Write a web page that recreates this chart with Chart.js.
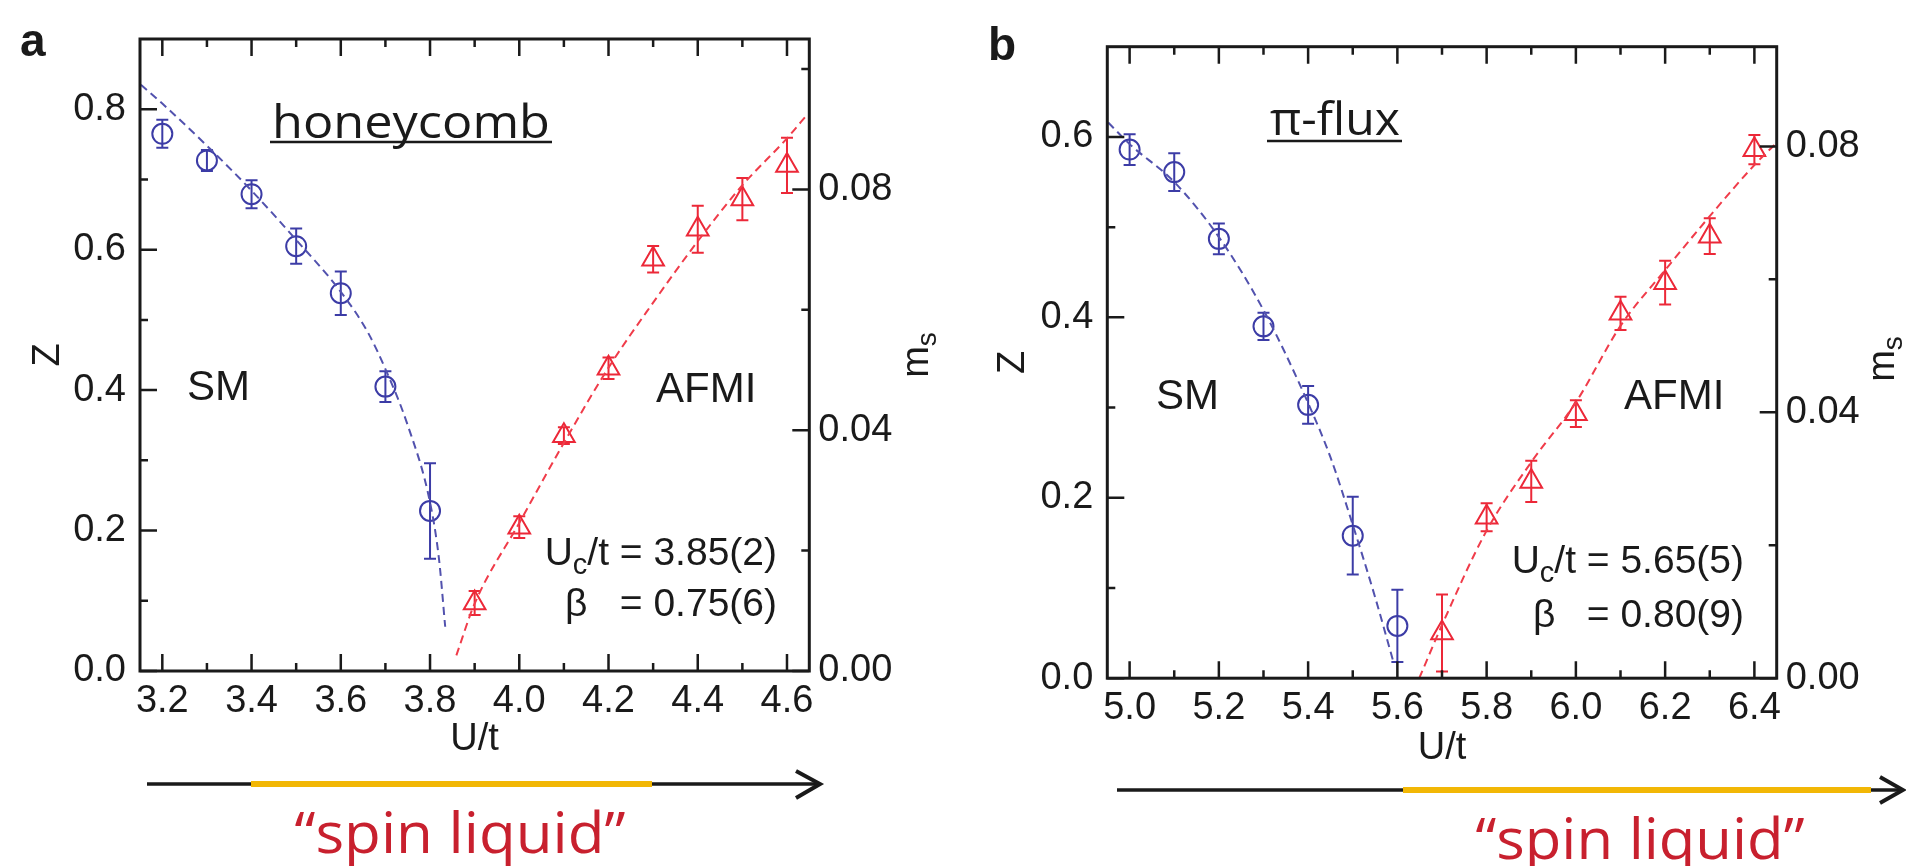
<!DOCTYPE html>
<html><head><meta charset="utf-8">
<script src="https://cdn.jsdelivr.net/npm/chart.js@4.4.1/dist/chart.umd.min.js"></script>
<style>
html,body{margin:0;padding:0;background:#fff;width:1906px;height:866px;overflow:hidden;}
.wrap{position:absolute;top:0;width:953px;height:866px;}
#wa{left:0}#wb{left:953px}
svg{position:absolute;left:0;top:0;pointer-events:none}
</style></head><body>
<div class="wrap" id="wa"><canvas id="ca" width="953" height="866"></canvas></div>
<div class="wrap" id="wb"><canvas id="cb" width="953" height="866"></canvas></div>
<svg width="1906" height="866" xmlns="http://www.w3.org/2000/svg" font-family="'Liberation Sans', Arial, sans-serif" fill="#1a1a1a">
  <text x="20" y="56" font-size="46" font-weight="bold">a</text>
  <text x="988" y="60" font-size="46" font-weight="bold">b</text>
  <text x="272" y="138" font-family="'Open Sans', Lato, sans-serif" font-size="45" textLength="278" lengthAdjust="spacingAndGlyphs">honeycomb</text>
  <line x1="270" y1="142" x2="552" y2="142" stroke="#1a1a1a" stroke-width="2.5"/>
  <text x="1270" y="135" font-family="'Open Sans', Lato, sans-serif" font-size="45" textLength="130" lengthAdjust="spacingAndGlyphs">π-flux</text>
  <line x1="1267" y1="141" x2="1402" y2="141" stroke="#1a1a1a" stroke-width="2.5"/>
  <text x="187" y="400" font-size="42">SM</text>
  <text x="656" y="402" font-size="42">AFMI</text>
  <text x="1156" y="409" font-size="42">SM</text>
  <text x="1624" y="409" font-size="42">AFMI</text>
  <text x="777" y="565" font-size="39" text-anchor="end">U<tspan font-size="29" dy="9">c</tspan><tspan dy="-9">/t = 3.85(2)</tspan></text>
  <text x="565" y="616" font-size="39">β</text>
  <text x="777" y="616" font-size="39" text-anchor="end">= 0.75(6)</text>
  <text x="1744" y="573" font-size="39" text-anchor="end">U<tspan font-size="29" dy="9">c</tspan><tspan dy="-9">/t = 5.65(5)</tspan></text>
  <text x="1533" y="627" font-size="39">β</text>
  <text x="1744" y="627" font-size="39" text-anchor="end">= 0.80(9)</text>
  <text transform="translate(928,355) rotate(-90)" text-anchor="middle" font-size="38">m<tspan font-size="28" dy="8">s</tspan></text>
  <text transform="translate(1894,359) rotate(-90)" text-anchor="middle" font-size="38">m<tspan font-size="28" dy="8">s</tspan></text>
  <line x1="147" y1="784" x2="818" y2="784" stroke="#1a1a1a" stroke-width="3.5"/>
  <line x1="251" y1="784" x2="652" y2="784" stroke="#f2b705" stroke-width="6"/>
  <polyline points="796,771 820,784 796,798" fill="none" stroke="#1a1a1a" stroke-width="4"/>
  <line x1="1117" y1="790" x2="1900" y2="790" stroke="#1a1a1a" stroke-width="3.5"/>
  <line x1="1403" y1="790" x2="1871" y2="790" stroke="#f2b705" stroke-width="6"/>
  <polyline points="1880,777 1903,790 1880,803" fill="none" stroke="#1a1a1a" stroke-width="4"/>
  <text x="460" y="853" font-family="'Open Sans', Lato, sans-serif" font-size="57" fill="#c8202e" text-anchor="middle" textLength="331" lengthAdjust="spacingAndGlyphs">“spin liquid”</text>
  <text x="1640" y="859" font-family="'Open Sans', Lato, sans-serif" font-size="57" fill="#c8202e" text-anchor="middle" textLength="329" lengthAdjust="spacingAndGlyphs">“spin liquid”</text>
</svg>
<script>
// ---------- Panel a: honeycomb ----------
const uSmA   = [3.2, 3.3, 3.4, 3.5, 3.6, 3.7, 3.8];
const zA     = [0.765, 0.727, 0.679, 0.605, 0.538, 0.405, 0.228];
const zErrA  = [0.020, 0.015, 0.020, 0.025, 0.031, 0.022, 0.068];
const uAfA   = [3.9, 4.0, 4.1, 4.2, 4.3, 4.4, 4.5, 4.6];
const msA    = [0.0113, 0.0239, 0.0391, 0.0503, 0.0684, 0.0734, 0.0784, 0.0840];
const msErrA = [0.0020, 0.0018, 0.0014, 0.0018, 0.0022, 0.0039, 0.0035, 0.0046];
const fitZuA  = [3.152, 3.2, 3.3, 3.4, 3.5, 3.6, 3.66, 3.7, 3.75, 3.8, 3.82, 3.834];
const fitZA   = [0.835, 0.808, 0.748, 0.684, 0.614, 0.540, 0.483, 0.430, 0.350, 0.240, 0.160, 0.063];
const fitMsuA = [3.859, 3.9, 4.0, 4.1, 4.2, 4.3, 4.4, 4.5, 4.6, 4.647];
const fitMsA  = [0.0026, 0.0112, 0.0246, 0.0379, 0.0504, 0.0612, 0.0714, 0.0807, 0.0885, 0.0926];
const xTicksA = [3.2, 3.4, 3.6, 3.8, 4.0, 4.2, 4.4, 4.6];
const xMinorA = [3.3, 3.5, 3.7, 3.9, 4.1, 4.3, 4.5];
const zTicksA = [0.0, 0.2, 0.4, 0.6, 0.8];
const zMinorA = [0.1, 0.3, 0.5, 0.7];
const msTicksA = [0.00, 0.04, 0.08];
const msMinorA = [0.02, 0.06, 0.10];

// ---------- Panel b: pi-flux ----------
const uSmB   = [5.0, 5.1, 5.2, 5.3, 5.4, 5.5, 5.6];
const zB     = [0.586, 0.561, 0.487, 0.390, 0.303, 0.158, 0.058];
const zErrB  = [0.017, 0.021, 0.017, 0.015, 0.021, 0.043, 0.040];
const uAfB   = [5.7, 5.8, 5.9, 6.0, 6.1, 6.2, 6.3, 6.4];
const msB    = [0.0068, 0.0242, 0.0296, 0.0398, 0.0549, 0.0595, 0.0665, 0.0795];
const msErrB = [0.0058, 0.0021, 0.0031, 0.0020, 0.0025, 0.0033, 0.0027, 0.0022];
const fitZuB  = [4.952, 5.0, 5.1, 5.2, 5.3, 5.4, 5.45, 5.5, 5.55, 5.59];
const fitZB   = [0.616, 0.592, 0.550, 0.489, 0.408, 0.305, 0.245, 0.170, 0.090, 0.020];
const fitMsuB = [5.649, 5.7, 5.8, 5.9, 6.0, 6.1, 6.2, 6.3, 6.4, 6.449];
const fitMsB  = [0.0, 0.0080, 0.0222, 0.0325, 0.0415, 0.0530, 0.0614, 0.0695, 0.0772, 0.0805];
const xTicksB = [5.0, 5.2, 5.4, 5.6, 5.8, 6.0, 6.2, 6.4];
const xMinorB = [5.1, 5.3, 5.5, 5.7, 5.9, 6.1, 6.3];
const zTicksB = [0.0, 0.2, 0.4, 0.6];
const zMinorB = [0.1, 0.3, 0.5];
const msTicksB = [0.00, 0.04, 0.08];
const msMinorB = [0.02, 0.06];

const FONT = "'Liberation Sans', Arial, sans-serif";
const INK = '#1a1a1a';
const BLUE = '#3c3ca6', BLUE_FIT = '#5252ae', RED = '#ec2838', RED_FIT = '#f03c4a';

function pts(xs, ys) { return xs.map((x, i) => ({x: x, y: ys[i]})); }

const errorBarPlugin = {
  id: 'errbars',
  beforeDatasetsDraw(chart) {
    const ctx = chart.ctx;
    chart.data.datasets.forEach(ds => {
      if (!ds.errors) return;
      const xs = chart.scales.x, ys = chart.scales[ds.yAxisID];
      ctx.save();
      ctx.strokeStyle = ds.borderColor; ctx.lineWidth = 2;
      ds.data.forEach((p, j) => {
        const e = ds.errors[j];
        const px = xs.getPixelForValue(p.x);
        const y1 = ys.getPixelForValue(p.y + e), y2 = ys.getPixelForValue(p.y - e);
        ctx.beginPath();
        ctx.moveTo(px, y1); ctx.lineTo(px, y2);
        ctx.moveTo(px - 6, y1); ctx.lineTo(px + 6, y1);
        ctx.moveTo(px - 6, y2); ctx.lineTo(px + 6, y2);
        ctx.stroke();
      });
      ctx.restore();
    });
  }
};

const framePlugin = {
  id: 'frame',
  afterDraw(chart, args, o) {
    const ctx = chart.ctx, a = chart.chartArea;
    const xs = chart.scales.x, yl = chart.scales.y, yr = chart.scales.y2;
    const MAJ = 17, MIN = 8;
    ctx.save();
    ctx.strokeStyle = INK;
    ctx.lineWidth = 3;
    ctx.strokeRect(a.left, a.top, a.right - a.left, a.bottom - a.top);
    ctx.lineWidth = 2.5;
    ctx.beginPath();
    const xt = (vals, L) => vals.forEach(v => { const p = xs.getPixelForValue(v);
      ctx.moveTo(p, a.bottom); ctx.lineTo(p, a.bottom - L);
      ctx.moveTo(p, a.top); ctx.lineTo(p, a.top + L); });
    const ylt = (vals, L) => vals.forEach(v => { const p = yl.getPixelForValue(v);
      ctx.moveTo(a.left, p); ctx.lineTo(a.left + L, p); });
    const yrt = (vals, L) => vals.forEach(v => { const p = yr.getPixelForValue(v);
      ctx.moveTo(a.right, p); ctx.lineTo(a.right - L, p); });
    xt(o.xMajor, MAJ); xt(o.xMinor, MIN);
    ylt(o.yMajor, MAJ); ylt(o.yMinor, MIN);
    yrt(o.y2Major, MAJ); yrt(o.y2Minor, MIN);
    ctx.stroke();
    ctx.restore();
  }
};

function buildChart(canvasId, p) {
  const tickFont = {family: FONT, size: 38};
  const titleFont = {family: FONT, size: 38};
  return new Chart(document.getElementById(canvasId), {
    type: 'scatter',
    data: { datasets: [
      { label: 'Z fit', data: pts(p.fitZu, p.fitZ), yAxisID: 'y', showLine: true,
        borderColor: BLUE_FIT, borderWidth: 2, borderDash: [8, 5], pointRadius: 0,
        cubicInterpolationMode: 'monotone', fill: false },
      { label: 'ms fit', data: pts(p.fitMsu, p.fitMs), yAxisID: 'y2', showLine: true,
        borderColor: RED_FIT, borderWidth: 2, borderDash: [8, 5], pointRadius: 0,
        cubicInterpolationMode: 'monotone', fill: false },
      { label: 'Z', data: pts(p.uSm, p.z), errors: p.zErr, yAxisID: 'y', showLine: false,
        pointStyle: 'circle', pointRadius: 10, pointBorderWidth: 2,
        borderColor: BLUE, pointBorderColor: BLUE, pointBackgroundColor: 'rgba(0,0,0,0)' },
      { label: 'ms', data: pts(p.uAf, p.ms), errors: p.msErr, yAxisID: 'y2', showLine: false,
        pointStyle: 'triangle', pointRadius: 12.5, pointBorderWidth: 2,
        borderColor: RED, pointBorderColor: RED, pointBackgroundColor: 'rgba(0,0,0,0)' }
    ]},
    options: {
      responsive: false, animation: false, devicePixelRatio: 1,
      layout: { padding: p.pad },
      plugins: {
        legend: {display: false}, tooltip: {enabled: false},
        frame: { xMajor: p.xTicks, xMinor: p.xMinor, yMajor: p.zTicks, yMinor: p.zMinor,
                 y2Major: p.msTicks, y2Minor: p.msMinor }
      },
      scales: {
        x: { type: 'linear', position: 'bottom', min: p.xMin, max: p.xMax,
             afterBuildTicks: s => { s.ticks = p.xTicks.map(v => ({value: v})); },
             afterFit: s => { s.height = 95; },
             ticks: { font: tickFont, color: INK, padding: 8, maxRotation: 0, autoSkip: false,
                      callback: v => Number(v).toFixed(1) },
             grid: {display: false, drawTicks: false}, border: {display: false},
             title: { display: true, text: 'U/t', font: titleFont, color: INK,
                      padding: {top: 0, bottom: p.xTitlePad} } },
        y: { type: 'linear', position: 'left', min: 0, max: p.zMax,
             afterBuildTicks: s => { s.ticks = p.zTicks.map(v => ({value: v})); },
             afterFit: s => { s.width = 120; },
             ticks: { font: tickFont, color: INK, padding: 14, autoSkip: false,
                      callback: v => Number(v).toFixed(1) },
             grid: {display: false, drawTicks: false}, border: {display: false},
             title: { display: true, text: 'Z', font: titleFont, color: INK,
                      padding: {top: p.yTitlePad, bottom: 0} } },
        y2: { type: 'linear', position: 'right', min: 0, max: p.msMax,
             afterBuildTicks: s => { s.ticks = p.msTicks.map(v => ({value: v})); },
             afterFit: s => { s.width = 100; },
             ticks: { font: tickFont, color: INK, padding: 9, autoSkip: false,
                      callback: v => Number(v).toFixed(2) },
             grid: {display: false, drawTicks: false}, border: {display: false} }
      }
    },
    plugins: [errorBarPlugin, framePlugin]
  });
}

buildChart('ca', {
  uSm: uSmA, z: zA, zErr: zErrA, uAf: uAfA, ms: msA, msErr: msErrA,
  fitZu: fitZuA, fitZ: fitZA, fitMsu: fitMsuA, fitMs: fitMsA,
  xTicks: xTicksA, xMinor: xMinorA, zTicks: zTicksA, zMinor: zMinorA,
  msTicks: msTicksA, msMinor: msMinorA,
  xMin: 3.15, xMax: 4.65, zMax: 0.9, msMax: 0.105,
  pad: {left: 20, right: 43.7, top: 39, bottom: 100},
  xTitlePad: 3.2, yTitlePad: 6.2
});
buildChart('cb', {
  uSm: uSmB, z: zB, zErr: zErrB, uAf: uAfB, ms: msB, msErr: msErrB,
  fitZu: fitZuB, fitZ: fitZB, fitMsu: fitMsuB, fitMs: fitMsB,
  xTicks: xTicksB, xMinor: xMinorB, zTicks: zTicksB, zMinor: zMinorB,
  msTicks: msTicksB, msMinor: msMinorB,
  xMin: 4.95, xMax: 6.45, zMax: 0.7, msMax: 0.095,
  pad: {left: 34.3, right: 29.3, top: 46.7, bottom: 92.8},
  xTitlePad: 1.9, yTitlePad: 3.9
});
</script>
</body></html>
